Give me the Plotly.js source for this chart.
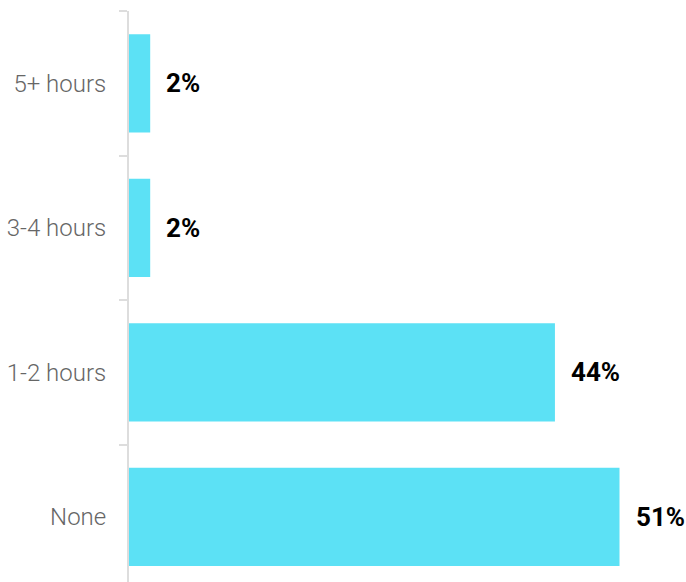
<!DOCTYPE html>
<html><head><meta charset="utf-8">
<script src="https://cdn.plot.ly/plotly-3.0.1.min.js"></script>
<style>html,body{margin:0;padding:0;background:#fff;}</style>
</head><body>
<div id="chart" style="width:686px;height:582px;"></div>
<script>
const categories = ["None", "1-2 hours", "3-4 hours", "5+ hours"];
const values = [50.9, 44.2, 2.2, 2.2];
const labels = ["51%", "44%", "2%", "2%"];

const trace = {
  type: "bar",
  orientation: "h",
  y: categories,
  x: values,
  marker: {color: "#5ce1f5"},
  hoverinfo: "none",
  width: 0.68
};

const annotations = categories.map((c, i) => ({
  x: values[i], y: c, xref: "x", yref: "y",
  text: labels[i], showarrow: false,
  xanchor: "left", yanchor: "middle", xshift: 14,
  font: {family: "Roboto", size: 26, color: "#000", weight: 700}
}));

const layout = {
  width: 686, height: 582,
  margin: {l: 129, r: 0, t: 11, b: 0, pad: 0},
  paper_bgcolor: "#fff", plot_bgcolor: "#fff",
  showlegend: false,
  xaxis: {range: [0, 57.8], visible: false, fixedrange: true},
  yaxis: {
    type: "category",
    categoryorder: "array", categoryarray: categories,
    range: [-0.45, 3.5],
    showgrid: false, zeroline: false,
    showline: true, linecolor: "#dddddd", linewidth: 2,
    ticks: "outside", tickson: "boundaries", ticklen: 8, tickcolor: "#dddddd", tickwidth: 2,
    ticklabelstandoff: 16,
    tickfont: {family: "Roboto", size: 24, color: "#666666", weight: 300}
  },
  annotations: annotations
};

Plotly.newPlot("chart", [trace], layout, {displayModeBar: false, staticPlot: true});
</script>
</body></html>
